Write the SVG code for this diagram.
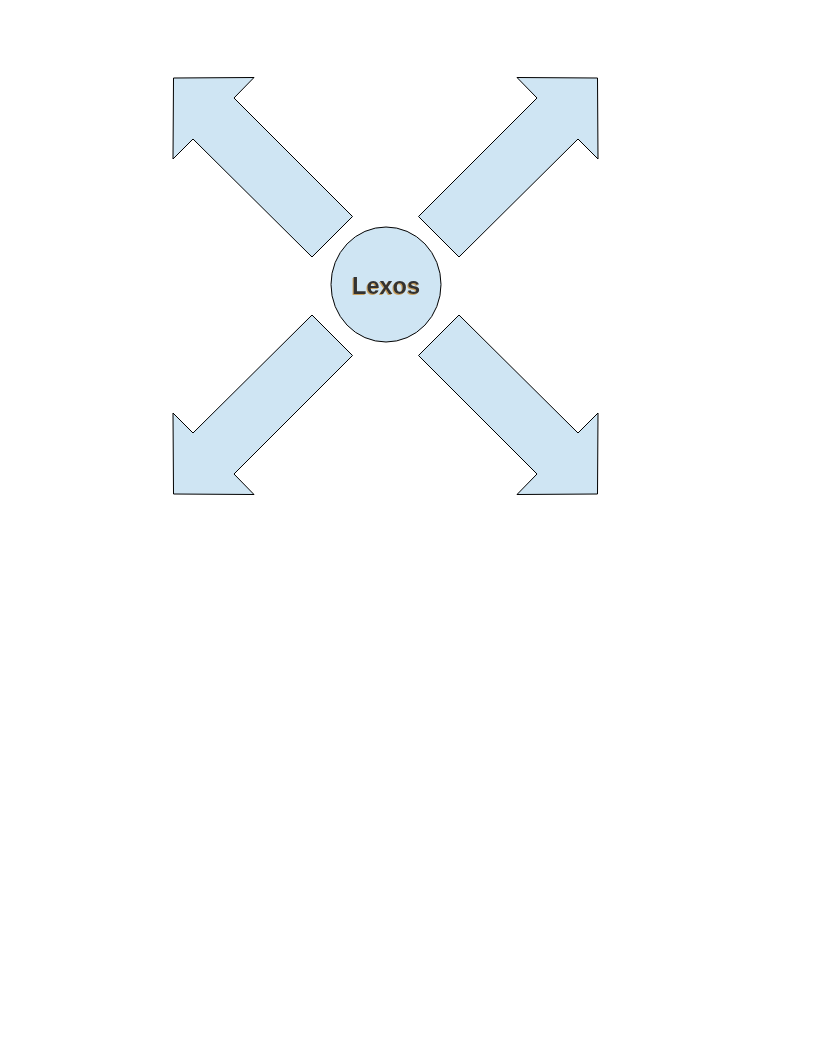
<svg xmlns="http://www.w3.org/2000/svg" width="816" height="1056" viewBox="0 0 816 1056">
  <defs>
    <style>
      .shape { fill: #cfe5f3; stroke: #000000; stroke-width: 1; stroke-linejoin: miter; }
      .label { font-family: "Liberation Sans", Arial, sans-serif; font-weight: bold; font-size: 23.5px; fill: #333333; text-anchor: middle; }
    </style>
    <filter id="shadow" x="-10%" y="-10%" width="120%" height="130%">
      <feDropShadow dx="-1" dy="1" stdDeviation="0.3" flood-color="#c89a50" flood-opacity="0.9"/>
    </filter>
  </defs>
  <rect width="816" height="1056" fill="#ffffff"/>
  <g id="connectors">
    <polygon id="arrow-tl" class="shape" points="173.5,78 254,77.5 234,98 352.5,216.5 312,257 193,139 173,159"/>
    <polygon id="arrow-tr" class="shape" points="597.5,78 517,77.5 537,98 418.5,216.5 459,257 578,139 598,159"/>
    <polygon id="arrow-bl" class="shape" points="173.5,494 254,494.5 234,474 352.5,355.5 312,315 193,433 173,413"/>
    <polygon id="arrow-br" class="shape" points="597.5,494 517,494.5 537,474 418.5,355.5 459,315 578,433 598,413"/>
  </g>
  <g id="node-lexos">
    <ellipse class="shape" cx="386" cy="284.5" rx="55" ry="57.5"/>
    <text class="label" x="386" y="293.5" filter="url(#shadow)">Lexos</text>
  </g>
</svg>
